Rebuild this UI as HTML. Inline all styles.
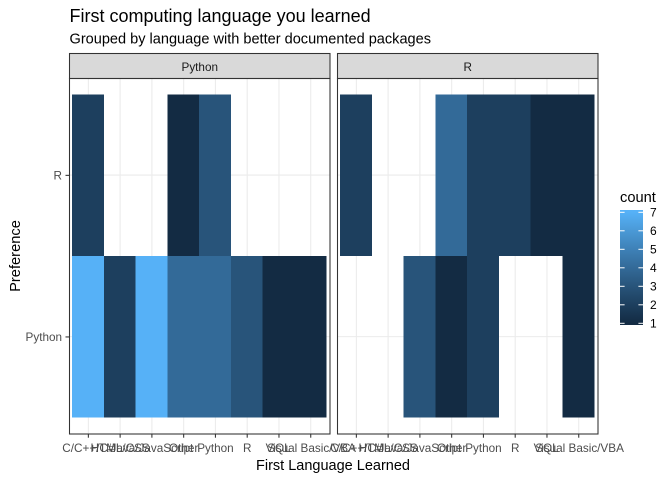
<!DOCTYPE html>
<html>
<head>
<meta charset="utf-8">
<style>
html,body{margin:0;padding:0;background:#fff;width:672px;height:480px;overflow:hidden}
svg{display:block;font-family:"Liberation Sans",Arial,sans-serif}
</style>
</head>
<body>
<svg id="chart" width="672" height="480" viewBox="0 0 672 480" xmlns="http://www.w3.org/2000/svg">
<rect width="672" height="480" fill="#fff"/>
<text x="69.5" y="22" font-size="18" fill="#000">First computing language you learned</text>
<text x="69.5" y="43.7" font-size="14.55" fill="#000">Grouped by language with better documented packages</text>
<text x="333" y="470" font-size="14.5" fill="#000" text-anchor="middle">First Language Learned</text>
<text transform="translate(20,256) rotate(-90)" font-size="14.67" fill="#000" text-anchor="middle">Preference</text>
<text x="620" y="202" font-size="14.67" fill="#000">count</text>
<defs><linearGradient id="legendGrad" x1="0" y1="1" x2="0" y2="0"></linearGradient></defs>
<g id="panels"></g>
<g id="legend"></g>
</svg>
<script>
var categories = ["C/C++/C#", "HTML/CSS", "Java/JavaScript", "Other", "Python", "R", "SQL", "Visual Basic/VBA"];
var preferences = ["Python", "R"];
var facets = ["Python", "R"];
// counts by facet, preference row, category; null = no tile
var pythonFacetPythonRow = [7, 2, 7, 4, 4, 3, 1, 1];
var pythonFacetRRow = [2, null, null, 1, 3, null, null, null];
var rFacetPythonRow = [null, null, 3, 1, 2, null, null, 1];
var rFacetRRow = [2, null, null, 4, 2, 2, 1, 1];
var legendTicks = [1, 2, 3, 4, 5, 6, 7];

var NS = "http://www.w3.org/2000/svg";
var svgPanels = document.getElementById("panels");
var svgLegend = document.getElementById("legend");

function make(tag, attrs, parent) {
  var el = document.createElementNS(NS, tag);
  for (var k in attrs) el.setAttribute(k, attrs[k]);
  parent.appendChild(el);
  return el;
}

function toLab(c) {
  var l = c.map(function (v) {
    v /= 255;
    return v > 0.04045 ? Math.pow((v + 0.055) / 1.055, 2.4) : v / 12.92;
  });
  var X = (0.4124 * l[0] + 0.3576 * l[1] + 0.1805 * l[2]) / 0.95047;
  var Y = 0.2126 * l[0] + 0.7152 * l[1] + 0.0722 * l[2];
  var Z = (0.0193 * l[0] + 0.1192 * l[1] + 0.9505 * l[2]) / 1.08883;
  function f(t) { return t > 0.008856 ? Math.cbrt(t) : 7.787 * t + 16 / 116; }
  return [116 * f(Y) - 16, 500 * (f(X) - f(Y)), 200 * (f(Y) - f(Z))];
}
function fromLab(L) {
  var fy = (L[0] + 16) / 116, fx = fy + L[1] / 500, fz = fy - L[2] / 200;
  function g(t) { return t * t * t > 0.008856 ? t * t * t : (t - 16 / 116) / 7.787; }
  var X = g(fx) * 0.95047, Y = g(fy), Z = g(fz) * 1.08883;
  var r = 3.2406 * X - 1.5372 * Y - 0.4986 * Z;
  var gr = -0.9689 * X + 1.8758 * Y + 0.0415 * Z;
  var b = 0.0557 * X - 0.2040 * Y + 1.0570 * Z;
  return "rgb(" + [r, gr, b].map(function (v) {
    v = v > 0.0031308 ? 1.055 * Math.pow(v, 1 / 2.4) - 0.055 : 12.92 * v;
    return Math.round(Math.min(1, Math.max(0, v)) * 255);
  }).join(",") + ")";
}
var lowLab = toLab([19, 43, 67]);
var highLab = toLab([86, 177, 247]);
function colorScale(count) {
  var t = (count - legendTicks[0]) / (legendTicks[legendTicks.length - 1] - legendTicks[0]);
  return fromLab(lowLab.map(function (v, i) { return v + (highLab[i] - v) * t; }));
}

var panelTop = 78.5, panelBottom = 434, stripTop = 53.5;
var unitY = (panelBottom - panelTop) / 2.2;
function yScale(rowIndex) { return panelBottom - (rowIndex + 0.6) * unitY - 0.4; }

function drawPanel(facetIndex, left, right, rows) {
  var unitX = (right - left) / (categories.length + 0.2);
  function xScale(i) { return left + (i + 0.6) * unitX - 0.6; }
  var g = make("g", {}, svgPanels);
  
  

  categories.forEach(function (c, i) {
    var grid = make("line", { x1: xScale(i) + 0.4, x2: xScale(i) + 0.4, y1: panelTop, y2: panelBottom, stroke: "#EBEBEB", "stroke-width": 1.07 }, g);
    
    
  });
  preferences.forEach(function (p, r) {
    var grid = make("line", { x1: left, x2: right, y1: yScale(r), y2: yScale(r), stroke: "#EBEBEB", "stroke-width": 1.07 }, g);
    
    
  });

  rows.forEach(function (row, r) {
    row.forEach(function (v, i) {
      if (v === null) return;
      var tile = make("rect", {
        x: xScale(i) - unitX / 2, y: yScale(r) - unitY / 2,
        width: unitX + 0.15, height: unitY + 0.15, fill: colorScale(v),
        "shape-rendering": "crispEdges"
      }, g);
      
      
    });
  });

  var strip = make("rect", { x: left, y: stripTop, width: right - left, height: panelTop - stripTop, fill: "#D9D9D9", stroke: "#333333", "stroke-width": 1.07 }, g);
  
  
  var stripText = make("text", { x: (left + right) / 2, y: 71, "font-size": 11.73, fill: "#1A1A1A", "text-anchor": "middle" }, g);
  stripText.textContent = facets[facetIndex];
  
  

  var border = make("rect", { x: left, y: panelTop, width: right - left, height: panelBottom - panelTop, fill: "none", stroke: "#333333", "stroke-width": 1.07 }, g);
  
  

  categories.forEach(function (c, i) {
    var tick = make("line", { x1: xScale(i) + 0.4, x2: xScale(i) + 0.4, y1: panelBottom, y2: panelBottom + 3.7, stroke: "#333333", "stroke-width": 1.07 }, g);
    
    
    var label = make("text", { x: xScale(i) + 0.4, y: 452, "font-size": 11.73, fill: "#4D4D4D", "text-anchor": "middle" }, g);
    label.textContent = c;
    
    
  });

  if (facetIndex === 0) {
    preferences.forEach(function (p, r) {
      var tick = make("line", { x1: left - 4, x2: left, y1: yScale(r) + 0.3, y2: yScale(r) + 0.3, stroke: "#333333", "stroke-width": 1.07 }, g);
      
      
      var label = make("text", { x: left - 7.5, y: yScale(r) + 4.5, "font-size": 11.73, fill: "#4D4D4D", "text-anchor": "end" }, g);
      label.textContent = p;
      
      
    });
  }
}

drawPanel(0, 69.5, 330, [pythonFacetPythonRow, pythonFacetRRow]);
drawPanel(1, 337.5, 598, [rFacetPythonRow, rFacetRRow]);

// legend colour bar
var barLeft = 620, barWidth = 23, barTop = 210, barHeight = 115;
var tickLow = 323.3, tickHigh = 212.3;
function legendY(v) {
  var a = legendTicks[0], b = legendTicks[legendTicks.length - 1];
  return tickLow + (v - a) / (b - a) * (tickHigh - tickLow);
}
var grad = document.getElementById("legendGrad");
legendTicks.forEach(function (v, i) {
  make("stop", { offset: ((tickLow - legendY(v) + (barTop + barHeight - tickLow)) / barHeight * 100) + "%", "stop-color": colorScale(v) }, grad);
});
var bar = make("rect", { x: barLeft, y: barTop, width: barWidth, height: barHeight, fill: "url(#legendGrad)" }, svgLegend);


legendTicks.forEach(function (v) {
  var y = legendY(v);
  var t1 = make("line", { x1: barLeft, x2: barLeft + 4.6, y1: y, y2: y, stroke: "#fff", "stroke-width": 1 }, svgLegend);
  
  
  var t2 = make("line", { x1: barLeft + barWidth - 4.6, x2: barLeft + barWidth, y1: y, y2: y, stroke: "#fff", "stroke-width": 1 }, svgLegend);
  
  
  var label = make("text", { x: 650, y: y + 4.4, "font-size": 12, fill: "#000" }, svgLegend);
  label.textContent = v;
  
  
});
</script>
</body>
</html>
